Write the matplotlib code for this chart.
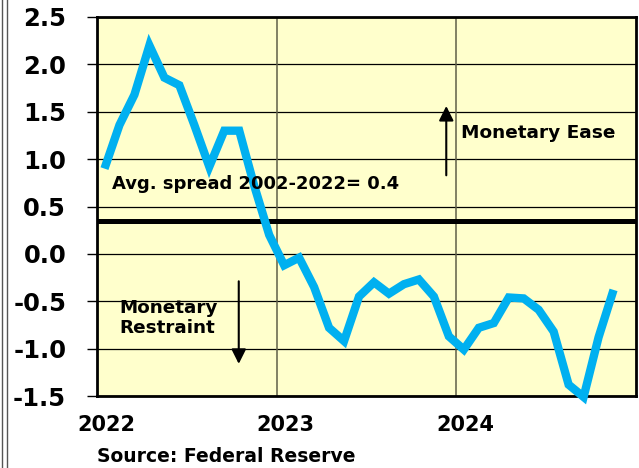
import matplotlib
matplotlib.use("Agg")
from matplotlib import pyplot as plt
from matplotlib.lines import Line2D

plt.rcParams['font.family'] = ['DejaVu Sans']
plt.rcParams['font.weight'] = 'bold'

# monthly spread, Jan 2022 .. Nov 2024
start_year = 2022
spread = [0.90, 1.36, 1.68, 2.20, 1.86, 1.78, 1.36, 0.92, 1.30, 1.30, 0.72, 0.20,
          -0.12, -0.04, -0.35, -0.78, -0.92, -0.45, -0.30, -0.42, -0.32, -0.27, -0.45, -0.87,
          -1.01, -0.78, -0.73, -0.46, -0.47, -0.59, -0.82, -1.38, -1.51, -0.88, -0.38]
avg_spread = 0.35
years = [2022, 2023, 2024]
yticks = [-1.5, -1.0, -0.5, 0.0, 0.5, 1.0, 1.5, 2.0, 2.5]

x = [start_year + (i + 0.5) / 12 for i in range(len(spread))]

fig = plt.figure(figsize=(6.39, 4.68), dpi=100)
ax = fig.add_axes([0.1518, 0.1538, 0.8435, 0.8099])
ax.set_facecolor('#FFFFCC')

for yv in yticks:
    ax.axhline(yv, color='black', lw=0.9, zorder=1)
for yr in years[1:]:
    ax.axvline(yr, color='#5f5f48', lw=1.1, zorder=1)

ax.axhline(avg_spread, color='black', lw=3.6, zorder=2)
ax.plot(x, spread, color='#00B0F0', lw=6, solid_joinstyle='miter', solid_capstyle='butt',
        zorder=3, clip_on=False)

ax.set_xlim(2022, 2025)
ax.set_ylim(-1.5, 2.5)
ax.set_yticks(yticks)
ax.set_yticklabels(['%.1f' % v for v in yticks], fontsize=17.5, fontweight='bold')
ax.tick_params(axis='y', direction='out', length=7.2, width=1, pad=15)
ax.set_xticks([])

for yr in years:
    ax.text(yr + 0.05, -0.077, str(yr), transform=ax.get_xaxis_transform(),
            ha='center', va='center', fontsize=15, fontweight='bold')

for s in ax.spines.values():
    s.set_linewidth(2)
    s.set_color('black')

ax.text(2022.083, 0.74, 'Avg. spread 2002-2022= 0.4', fontsize=13, fontweight='bold',
        va='center', ha='left')
ax.text(2024.028, 1.28, 'Monetary Ease', fontsize=13.3, fontweight='bold', va='center', ha='left')
ax.text(2022.122, -0.675, 'Monetary\nRestraint', fontsize=13.2, fontweight='bold',
        va='center', ha='left', linespacing=1.12)

ax.annotate('', xy=(2023.944, 1.59), xytext=(2023.944, 0.80),
            arrowprops=dict(arrowstyle='-|>', color='black', lw=1.5, mutation_scale=22))
ax.annotate('', xy=(2022.789, -1.19), xytext=(2022.789, -0.26),
            arrowprops=dict(arrowstyle='-|>', color='black', lw=1.5, mutation_scale=22))

fig.text(97 / 639, 1 - 456 / 468, 'Source: Federal Reserve', fontsize=13.5, fontweight='bold',
         ha='left', va='center')

# double rule down the left edge
fig.add_artist(Line2D([1.5 / 639, 1.5 / 639], [0, 1], color='#555555', lw=1))
fig.add_artist(Line2D([6.5 / 639, 6.5 / 639], [0, 1], color='#555555', lw=1))

fig.savefig('out.png', dpi=100)
